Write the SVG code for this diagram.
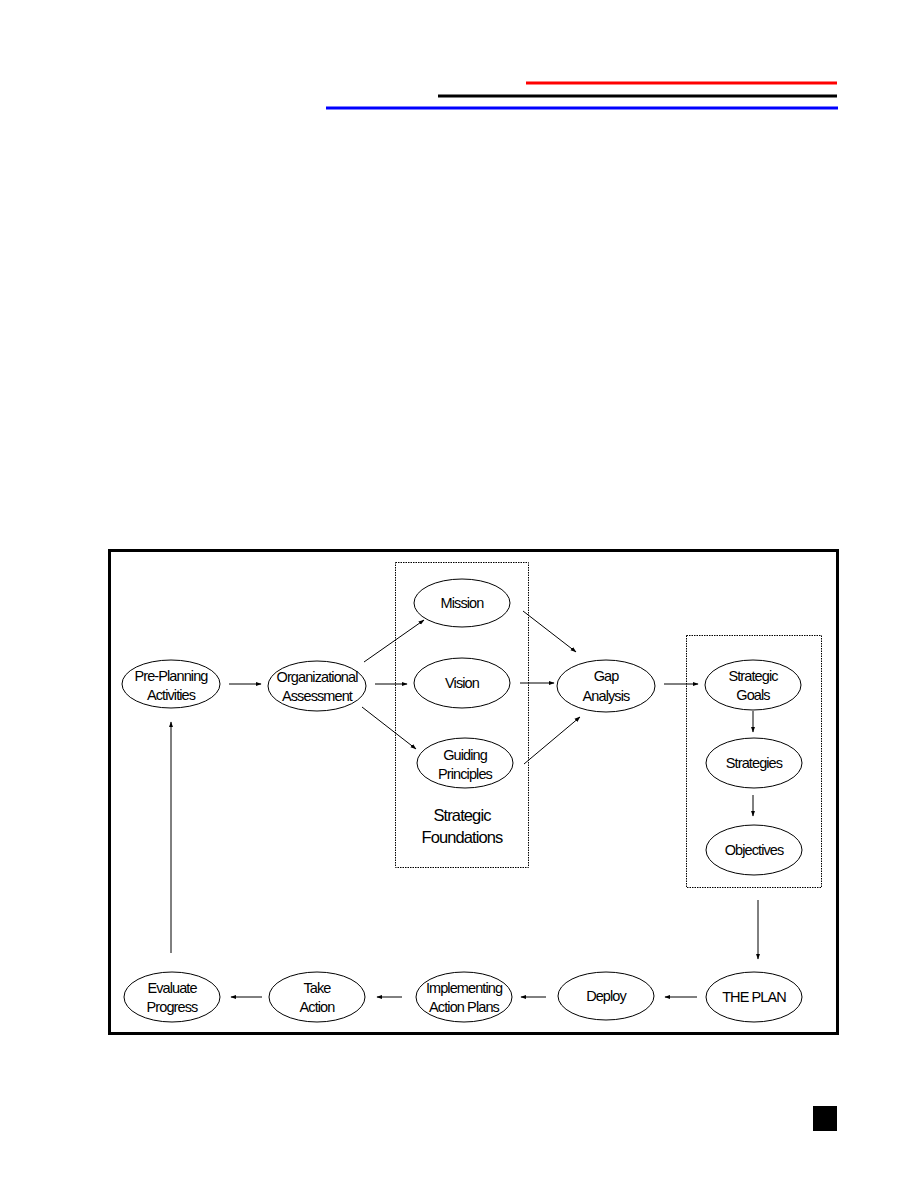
<svg xmlns="http://www.w3.org/2000/svg" width="918" height="1188" viewBox="0 0 918 1188">
<style>
.n ellipse{fill:#fff;stroke:#000;stroke-width:1}
.n text,.lbl{font-family:"Liberation Sans",Arial,sans-serif;font-size:14.5px;letter-spacing:-0.9px;text-anchor:middle;fill:#000}
.lbl{font-size:16.5px}
.c line{stroke:#000;stroke-width:1;marker-end:url(#ah)}
.box{fill:none;stroke:#000;stroke-width:1;stroke-dasharray:1.5 1}
</style>
<defs>
<marker id="ah" viewBox="0 0 10 10" refX="9" refY="5" markerWidth="6" markerHeight="6" markerUnits="userSpaceOnUse" orient="auto">
<path d="M0,1.5 L10,5 L0,8.5 Z" fill="#000"/>
</marker>
</defs>
<rect width="918" height="1188" fill="#fff"/>
<line x1="526" y1="83" x2="837" y2="83" stroke="#f00" stroke-width="3"/>
<line x1="438" y1="96" x2="837" y2="96" stroke="#000" stroke-width="3"/>
<line x1="326" y1="108" x2="838" y2="108" stroke="#00f" stroke-width="3"/>
<rect x="109.5" y="550.5" width="728" height="483" fill="none" stroke="#000" stroke-width="3"/>
<rect id="strategic-foundations" class="box" x="395.5" y="562.5" width="133" height="305"/>
<rect id="plan-box" class="box" x="686.5" y="635.5" width="135" height="252"/>
<text class="lbl" x="462" y="821">Strategic</text>
<text class="lbl" x="462" y="843">Foundations</text>
<g class="c">
<line x1="229" y1="684" x2="261" y2="684"/>
<line x1="364" y1="662" x2="424" y2="620"/>
<line x1="375" y1="684" x2="407" y2="684"/>
<line x1="362" y1="707" x2="416" y2="749"/>
<line x1="523" y1="611" x2="576" y2="652"/>
<line x1="520" y1="683" x2="554" y2="683"/>
<line x1="524" y1="764" x2="580" y2="717"/>
<line x1="664" y1="684" x2="698" y2="684"/>
<line x1="753" y1="711" x2="753" y2="732"/>
<line x1="753" y1="795" x2="753" y2="816"/>
<line x1="758" y1="900" x2="758" y2="959"/>
<line x1="697" y1="997" x2="665" y2="997"/>
<line x1="546" y1="997" x2="521" y2="997"/>
<line x1="402" y1="997" x2="377" y2="997"/>
<line x1="262" y1="997" x2="231" y2="997"/>
<line x1="171" y1="953" x2="171" y2="722"/>
</g>
<g id="pre-planning" class="n"><ellipse cx="171" cy="684" rx="49" ry="24"/><text x="171" y="681">Pre-Planning</text><text x="171" y="700">Activities</text></g>
<g id="org-assessment" class="n"><ellipse cx="317" cy="686" rx="49" ry="25"/><text x="317" y="682">Organizational</text><text x="317" y="701">Assessment</text></g>
<g id="mission" class="n"><ellipse cx="462" cy="603" rx="48" ry="24"/><text x="462" y="608">Mission</text></g>
<g id="vision" class="n"><ellipse cx="462" cy="683" rx="48" ry="25"/><text x="462" y="688">Vision</text></g>
<g id="guiding" class="n"><ellipse cx="465" cy="763" rx="48" ry="25"/><text x="465" y="760">Guiding</text><text x="465" y="779">Principles</text></g>
<g id="gap" class="n"><ellipse cx="606" cy="686" rx="49" ry="26"/><text x="606" y="681">Gap</text><text x="606" y="701">Analysis</text></g>
<g id="goals" class="n"><ellipse cx="753" cy="685" rx="48" ry="25"/><text x="753" y="681">Strategic</text><text x="753" y="700">Goals</text></g>
<g id="strategies" class="n"><ellipse cx="754" cy="763" rx="48" ry="25"/><text x="754" y="768">Strategies</text></g>
<g id="objectives" class="n"><ellipse cx="754" cy="850" rx="48" ry="25"/><text x="754" y="855">Objectives</text></g>
<g id="the-plan" class="n"><ellipse cx="754" cy="997" rx="48" ry="25"/><text x="754" y="1002">THE PLAN</text></g>
<g id="deploy" class="n"><ellipse cx="606" cy="996" rx="48" ry="24"/><text x="606" y="1001">Deploy</text></g>
<g id="implementing" class="n"><ellipse cx="464" cy="997" rx="48" ry="25"/><text x="464" y="993">Implementing</text><text x="464" y="1012">Action Plans</text></g>
<g id="take-action" class="n"><ellipse cx="317" cy="997" rx="48" ry="25"/><text x="317" y="993">Take</text><text x="317" y="1012">Action</text></g>
<g id="evaluate" class="n"><ellipse cx="172" cy="997" rx="48" ry="25"/><text x="172" y="993">Evaluate</text><text x="172" y="1012">Progress</text></g>
<rect x="813" y="1106" width="24" height="25" fill="#000"/>
</svg>
